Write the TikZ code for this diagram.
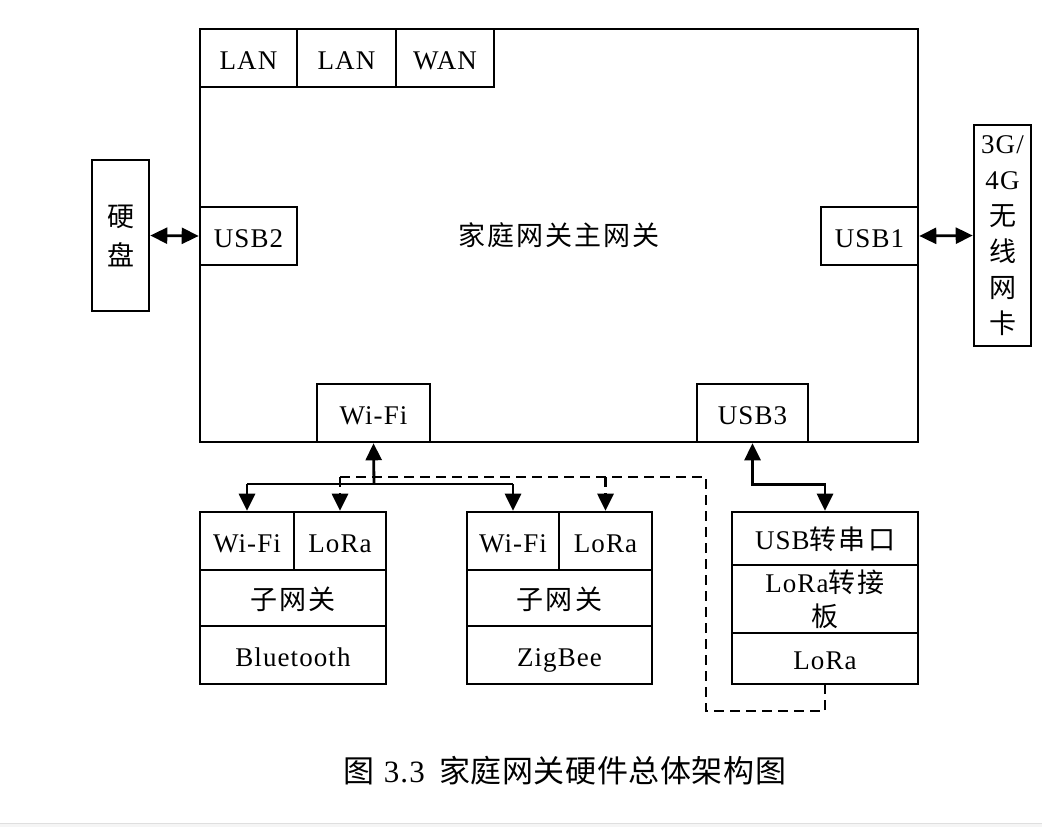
\documentclass[tikz,border=0pt]{standalone}
\usepackage{fontspec}
\setmainfont{Liberation Serif}[LetterSpace=4]
\newfontfamily\cjk{Noto Sans CJK SC}[LetterSpace=8]
\newfontfamily\cjkcap{Noto Sans CJK SC}[LetterSpace=2]
\usetikzlibrary{arrows.meta}
\begin{document}
\begin{tikzpicture}[x=1pt,y=-1pt,
  every node/.style={font=\fontsize{27}{36}\selectfont, inner sep=0pt, align=center},
  cell/.style={draw, line width=2.6pt},
  one/.style={text height=22pt, text depth=0pt},
  conn/.style={line width=2.8pt},
  tip/.style={-{Triangle[length=17pt,width=16pt]}},
  both/.style={{Triangle[length=17pt,width=16pt]}-{Triangle[length=17pt,width=16pt]}},
  dsh/.style={line width=2.8pt, dash pattern=on 10pt off 6pt}]
\useasboundingbox (0,0) rectangle (1042,827);
\fill[gray!8] (0,823) rectangle (1042,827);
\draw[gray!25, line width=1pt] (0,823) -- (1042,823);

% main gateway
\node[cell, minimum width=718pt, minimum height=413pt] (main) at (559,235.5) {{\cjk 家庭网关主网关}};
\node[cell, one, minimum width=97pt, minimum height=58pt] (lan1) at (248.5,58) {LAN};
\node[cell, one, minimum width=99pt, minimum height=58pt] (lan2) at (346.5,58) {LAN};
\node[cell, one, minimum width=98pt, minimum height=58pt] (wan) at (445,58) {WAN};
\node[cell, one, minimum width=97pt, minimum height=58pt] (usb2) at (248.5,236) {USB2};
\node[cell, one, minimum width=97pt, minimum height=58pt] (usb1) at (869.5,236) {USB1};
\node[cell, one, minimum width=113pt, minimum height=58pt] (wifi) at (373.5,413) {Wi-Fi};
\node[cell, one, minimum width=111pt, minimum height=58pt] (usb3) at (752.5,413) {USB3};

% side devices
\node[cell, minimum width=57pt, minimum height=151pt, font=\fontsize{27}{39}\selectfont] (disk) at (120.5,235.5) {{\cjk 硬}\\{\cjk 盘}};
\node[cell, minimum width=57pt, minimum height=221pt] (card) at (1002.5,235.5) {3G/\\4G\\{\cjk 无}\\{\cjk 线}\\{\cjk 网}\\{\cjk 卡}};

% sub gateway 1
\node[cell, one, minimum width=94pt, minimum height=58pt] (wifia) at (247,541) {Wi-Fi};
\node[cell, one, minimum width=92pt, minimum height=58pt] (loraa) at (340,541) {LoRa};
\node[cell, one, minimum width=186pt, minimum height=56pt] (sga) at (293,598) {{\cjk 子网关}};
\node[cell, one, minimum width=186pt, minimum height=58pt] (bt) at (293,655) {Bluetooth};

% sub gateway 2
\node[cell, one, minimum width=92pt, minimum height=58pt] (wifib) at (513,541) {Wi-Fi};
\node[cell, one, minimum width=93pt, minimum height=58pt] (lorab) at (605.5,541) {LoRa};
\node[cell, one, minimum width=185pt, minimum height=56pt] (sgb) at (559.5,598) {{\cjk 子网关}};
\node[cell, one, minimum width=185pt, minimum height=58pt] (zb) at (559.5,655) {ZigBee};

% USB serial / LoRa adapter
\node[cell, one, minimum width=186pt, minimum height=53pt] (ser) at (825,538.5) {USB{\cjk 转串口}};
\node[cell, minimum width=186pt, minimum height=68pt, font=\fontsize{27}{34}\selectfont] (adp) at (825,599) {LoRa{\cjk 转接}\\{\cjk 板}};
\node[cell, one, minimum width=186pt, minimum height=51pt] (lorac) at (825,658.5) {LoRa};

% connectors
\coordinate (bus) at (374,484);
\coordinate (dbus) at (340,477);
\coordinate (dcorner) at (706,711);
\draw[conn, tip] (bus) -- (wifi.south);
\draw[conn] (wifia.north |- bus) -- (wifib.north |- bus);
\draw[conn, tip] (wifia.north |- bus) -- (wifia.north);
\draw[conn, tip] (wifib.north |- bus) -- (wifib.north);
\draw[dsh] (dbus) -- (dbus -| dcorner) -- (dcorner) -- (dcorner -| lorac.south) -- (lorac.south);
\draw[dsh, tip] (loraa.north |- dbus) -- (loraa.north);
\draw[dsh, tip] (lorab.north |- dbus) -- (lorab.north);
\draw[conn, both] (usb3.south) -- ++(0,41) -| (ser.north);
\draw[conn, both] (disk.east) -- (usb2.west);
\draw[conn, both] (usb1.east) -- (card.west);

% caption
\node[font=\fontsize{31}{36}\selectfont] (cap) at (565,771) {{\cjkcap 图} 3.3\hspace{14pt}{\cjkcap 家庭网关硬件总体架构图}};
\end{tikzpicture}
\end{document}
